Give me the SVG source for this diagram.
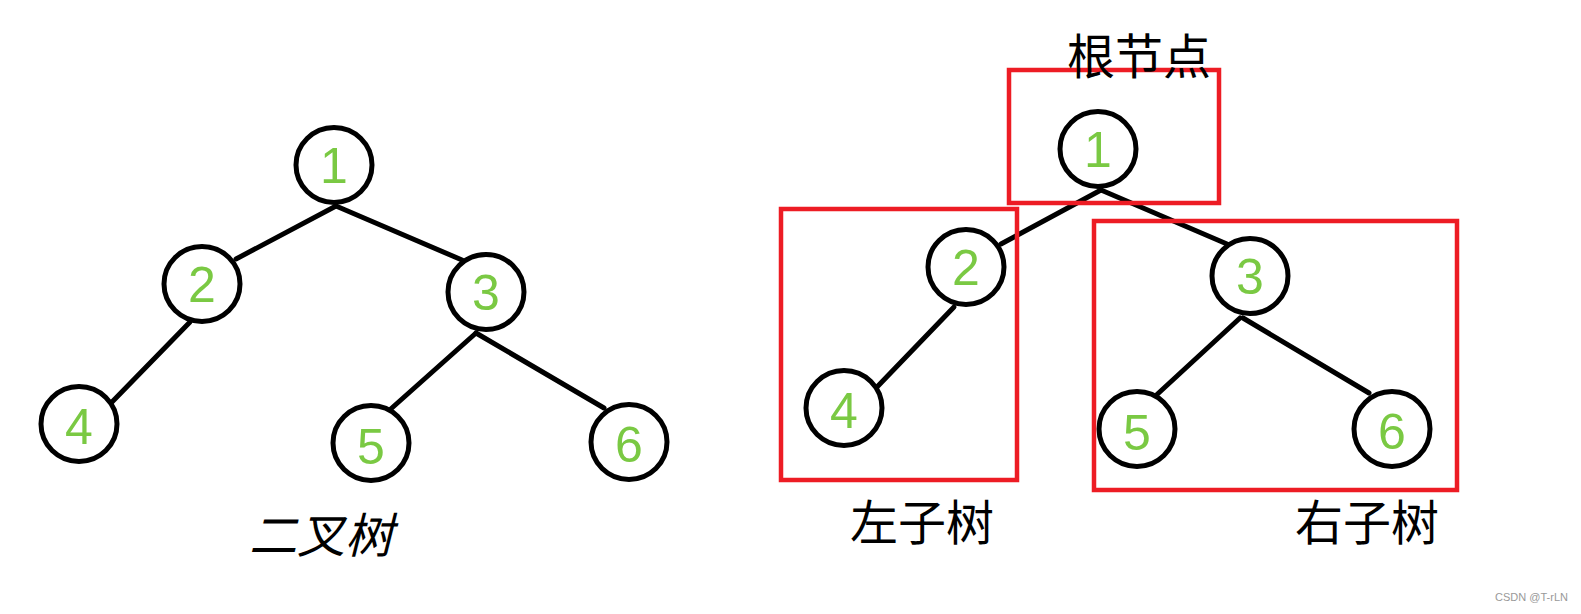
<svg xmlns="http://www.w3.org/2000/svg" width="1581" height="614" viewBox="0 0 1581 614">
<style>
.node ellipse{fill:#fff;stroke:#000;stroke-width:5}
.dig{font-family:"Liberation Sans",sans-serif;font-size:50px;fill:#7ac943;text-anchor:middle}
.edge{stroke:#000;stroke-width:5;stroke-linecap:round;fill:none}
.box{fill:none;stroke:#ed1c24;stroke-width:4.5}
.cap{font-family:"Liberation Serif","Noto Sans CJK SC",serif;font-size:48px;fill:#000}
.wm{font-family:"Liberation Sans",sans-serif;font-size:11px;fill:#999}
</style>
<rect width="1581" height="614" fill="#fff"/>
<g id="connectors">
<line class="edge" x1="336" y1="206" x2="236" y2="259"/>
<line class="edge" x1="336" y1="206" x2="462" y2="260"/>
<line class="edge" x1="190" y1="322" x2="112" y2="402"/>
<line class="edge" x1="476" y1="333" x2="384" y2="415"/>
<line class="edge" x1="476" y1="333" x2="604" y2="408"/>
<line class="edge" x1="1101" y1="190" x2="1001" y2="244"/>
<line class="edge" x1="1101" y1="190" x2="1227" y2="244"/>
<line class="edge" x1="954" y1="307" x2="877" y2="387"/>
<line class="edge" x1="1240" y1="318" x2="1151" y2="400"/>
<line class="edge" x1="1243" y1="318" x2="1369" y2="393"/>
</g>
<g id="L1" class="node"><ellipse cx="334" cy="165" rx="38" ry="37.5"/><text class="dig" x="334" y="183">1</text></g>
<g id="L2" class="node"><ellipse cx="202" cy="284" rx="38" ry="37.5"/><text class="dig" x="202" y="302">2</text></g>
<g id="L3" class="node"><ellipse cx="486" cy="292" rx="38" ry="37.5"/><text class="dig" x="486" y="310">3</text></g>
<g id="L4" class="node"><ellipse cx="79" cy="424" rx="38" ry="37.5"/><text class="dig" x="79" y="444">4</text></g>
<g id="L5" class="node"><ellipse cx="371" cy="443" rx="38" ry="37.5"/><text class="dig" x="371" y="464">5</text></g>
<g id="L6" class="node"><ellipse cx="629" cy="442" rx="38" ry="37.5"/><text class="dig" x="629" y="462">6</text></g>
<g id="R1" class="node"><ellipse cx="1098" cy="149" rx="38" ry="37.5"/><text class="dig" x="1098" y="167">1</text></g>
<g id="R2" class="node"><ellipse cx="966" cy="267" rx="38" ry="37.5"/><text class="dig" x="966" y="285">2</text></g>
<g id="R3" class="node"><ellipse cx="1250" cy="276" rx="38" ry="37.5"/><text class="dig" x="1250" y="294">3</text></g>
<g id="R4" class="node"><ellipse cx="844" cy="408" rx="38" ry="37.5"/><text class="dig" x="844" y="428">4</text></g>
<g id="R5" class="node"><ellipse cx="1137" cy="429" rx="38" ry="37.5"/><text class="dig" x="1137" y="450">5</text></g>
<g id="R6" class="node"><ellipse cx="1392" cy="429" rx="38" ry="37.5"/><text class="dig" x="1392" y="449">6</text></g>
<g id="boxes">
<rect id="rootBox" class="box" x="1009" y="70" width="210" height="133"/>
<rect id="leftBox" class="box" x="781" y="209" width="236" height="271"/>
<rect id="rightBox" class="box" x="1094" y="221" width="363" height="269"/>
</g>
<g id="labels">
<text class="cap" x="1139" y="74" text-anchor="middle">根节点</text>
<text class="cap" x="922" y="540" text-anchor="middle">左子树</text>
<text class="cap" x="1367" y="540" text-anchor="middle">右子树</text>
<text class="cap" x="321" y="553" text-anchor="middle" font-style="italic">二叉树</text>
<text class="wm" x="1568" y="601" text-anchor="end">CSDN @T-rLN</text>
</g>
</svg>
